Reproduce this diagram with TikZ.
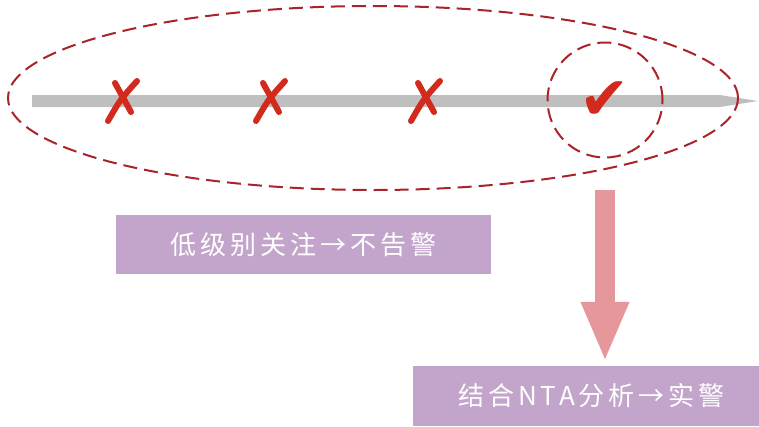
\documentclass[tikz,border=0pt]{standalone}
\usepackage{fontspec}
\usetikzlibrary{arrows.meta,shapes.geometric}
\newfontfamily\cjk[LetterSpace=15]{Noto Sans CJK SC}
\newfontfamily\symb{DejaVu Sans}
\definecolor{boxpurple}{HTML}{C3A5CB}
\definecolor{markred}{HTML}{D22A1C}
\definecolor{dashred}{HTML}{A8232A}
\definecolor{arrowpink}{HTML}{E5979B}
\definecolor{bargray}{HTML}{BFBFBF}
\tikzset{
  markglyph/.style={text=markred, font=\symb\fontsize{60}{60}\selectfont, inner sep=0pt},
  stroke/.style={draw=markred, line width=6pt, line cap=round},
  ring/.style={draw=dashred, line width=2pt, dash pattern=on 14pt off 7pt},
  label box/.style={fill=boxpurple, text=white, font=\cjk\fontsize{26}{26}\selectfont, inner sep=0pt}
}
\begin{document}
\begin{tikzpicture}[x=1pt, y=-1pt]
  \useasboundingbox (0,0) rectangle (759,426);
  % time line
  \fill[bargray] (32,95) -- (720,95) -- (758,101) -- (720,107) -- (32,107) -- cycle;
  % crosses
  \foreach \x in {122,270,425} {
    \draw[stroke] (\x-14,121) .. controls (\x-2,100) .. (\x+15,81);
    \draw[stroke] (\x-7,83) -- (\x+9,112);
  }
  \node at (605,101) [markglyph] (ok) {✔};
  % groups
  \node at (373,98) [ring, ellipse, minimum width=730pt, minimum height=184pt, inner sep=0pt] (all) {};
  \node at (605,100) [ring, circle, minimum size=115pt, inner sep=0pt] (hit) {};
  % labels
  \node at (303.5,244.5) [label box, minimum width=375pt, minimum height=59pt] (low) {低级别关注→不告警};
  \node at (591.5,396) [label box, minimum width=357pt, minimum height=60pt] (nta) {结合NTA分析→实警};
  \draw[arrowpink, line width=20pt, -{Triangle[length=60pt, width=44pt]}, shorten <=31pt, shorten >=4pt] (hit.south) -- (hit.south |- nta.north);
\end{tikzpicture}
\end{document}
